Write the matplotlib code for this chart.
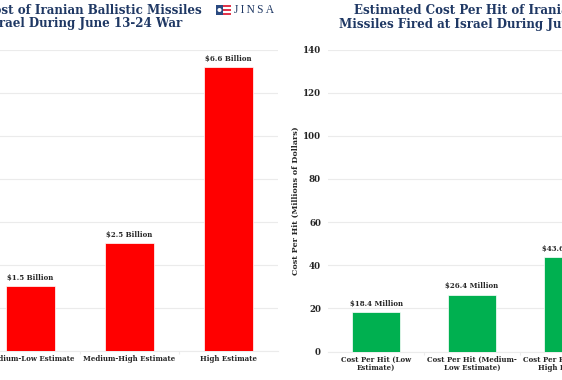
import matplotlib
matplotlib.use("Agg")
import matplotlib.pyplot as plt
from matplotlib.patches import Circle, Rectangle

W, H = 562, 380

left_labels = ["Medium-Low Estimate", "Medium-High Estimate", "High Estimate"]
left_values = [1.5, 2.5, 6.6]
left_text = ["$1.5 Billion", "$2.5 Billion", "$6.6 Billion"]
left_ticks = [0, 1, 2, 3, 4, 5, 6, 7]

right_labels = ["Cost Per Hit (Low\nEstimate)", "Cost Per Hit (Medium-\nLow Estimate)",
                "Cost Per Hit (Medium-\nHigh Estimate)"]
right_values = [18.4, 26.4, 43.6]
right_text = ["$18.4 Million", "$26.4 Million", "$43.6 Million"]
right_ticks = [0, 20, 40, 60, 80, 100, 120, 140]

NAVY = "#1f3864"
DARK = "#262626"
GRID = "#ebebeb"
SERIF = "DejaVu Serif"


def pixel_axes(fig, x0, x1, y_top, y_bottom):
    # axes box given in image pixels, can hang over the figure edge
    return fig.add_axes([x0 / W, 1 - y_bottom / H, (x1 - x0) / W, (y_bottom - y_top) / H])


def bar_panel(ax, labels, values, texts, ticks, color):
    pos = range(len(values))
    ax.bar(pos, values, width=0.49, color=color, edgecolor="white", linewidth=0.5, zorder=3)
    for p, v, t in zip(pos, values, texts):
        ax.annotate(t, (p, v), xytext=(0, 3), textcoords="offset points", ha="center",
                    va="bottom", fontsize=5, fontweight="bold", family=SERIF, color=DARK)
    ax.set_xlim(-0.5, 2.5)
    ax.set_ylim(ticks[0], ticks[-1])
    ax.set_yticks(ticks)
    ax.set_xticks(list(pos))
    ax.set_xticklabels(labels, fontsize=5, fontweight="bold", family=SERIF,
                       color=DARK, linespacing=1.05)
    ax.set_xticks([0.5, 1.5], minor=True)
    ax.tick_params(axis="x", which="major", length=0, pad=3)
    ax.tick_params(axis="x", which="minor", length=2, color=GRID, width=0.8)
    ax.tick_params(axis="y", length=0, pad=5, labelsize=6.2, labelcolor=DARK)
    ax.grid(axis="y", color=GRID, linewidth=0.8, zorder=0)
    for s in ["top", "right", "left"]:
        ax.spines[s].set_visible(False)
    ax.spines["bottom"].set_color(GRID)


fig = plt.figure(figsize=(W / 100, H / 100), dpi=100)

ax1 = pixel_axes(fig, -19, 278, 49.5, 350.5)
bar_panel(ax1, left_labels, left_values, left_text, left_ticks, "#ff0000")
ax1.set_yticklabels([])

ax2 = pixel_axes(fig, 328, 616, 49.5, 351.5)
bar_panel(ax2, right_labels, right_values, right_text, right_ticks, "#00b050")
ax2.set_ylabel("Cost Per Hit (Millions of Dollars)", fontsize=5.8, fontweight="bold",
               family=SERIF, color=DARK, labelpad=2.5)
for t in ax2.get_yticklabels():
    t.set_fontfamily(SERIF)
    t.set_fontweight("bold")

# titles run past the figure edge like the cropped original
fig.text(202 / W, 1 - 10 / H, "Total Cost of Iranian Ballistic Missiles", ha="right", va="center",
         fontsize=8.6, fontweight="bold", family=SERIF, color=NAVY)
fig.text(182 / W, 1 - 23 / H, "Fired at Israel During June 13-24 War", ha="right", va="center",
         fontsize=8.6, fontweight="bold", family=SERIF, color=NAVY)
fig.text(354 / W, 1 - 11 / H, "Estimated Cost Per Hit of Iranian Ballistic", ha="left", va="center",
         fontsize=8.6, fontweight="bold", family=SERIF, color=NAVY)
fig.text(339 / W, 1 - 24.5 / H, "Missiles Fired at Israel During June 13-24 War", ha="left", va="center",
         fontsize=8.6, fontweight="bold", family=SERIF, color=NAVY)

# JINSA logo
logo = fig.add_axes([216 / W, 1 - 15 / H, 15 / W, 10 / H])
logo.set_xlim(0, 15)
logo.set_ylim(10, 0)
logo.axis("off")
for y in [0, 4, 8]:
    logo.add_patch(Rectangle((0, y), 15, 2, color="#e0364c", lw=0))
logo.add_patch(Rectangle((0, 0), 7, 10, color="#2a4a80", lw=0))
logo.add_patch(Circle((3.5, 5), 2, color="white", lw=0))
fig.text(233.5 / W, 1 - 10 / H, "J\u2009I\u2009N\u2009S\u2009A", ha="left", va="center",
         fontsize=8.3, family="Liberation Serif", color=NAVY)

fig.savefig("out.png", dpi=100)
